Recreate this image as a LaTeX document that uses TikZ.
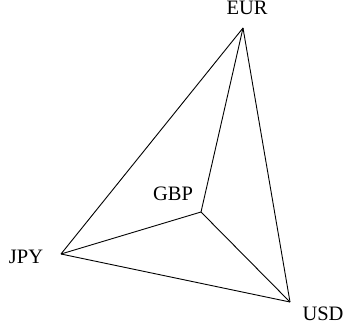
\documentclass[tikz,border=0pt]{standalone}
\usepackage{fontspec}
\setmainfont{Liberation Serif}
\begin{document}
\begin{tikzpicture}[x=1pt,y=-1pt,
  edge/.style={draw=black,line width=0.9pt},
  lbl/.style={font=\fontsize{20.5}{24}\selectfont,inner sep=0pt,anchor=base}]
\useasboundingbox (0,0) rectangle (344,331);
\coordinate (eur) at (243,28);
\coordinate (gbp) at (201,212);
\coordinate (jpy) at (61,254);
\coordinate (usd) at (290,302);
\node[lbl] (teur) at (247,15) {EUR};
\node[lbl] (tgbp) at (173,200) {GBP};
\node[lbl] (tjpy) at (26,263) {JPY};
\node[lbl] (tusd) at (323,320) {USD};
\draw[edge] (eur) -- (jpy);
\draw[edge] (eur) -- (gbp);
\draw[edge] (eur) -- (usd);
\draw[edge] (jpy) -- (gbp);
\draw[edge] (jpy) -- (usd);
\draw[edge] (gbp) -- (usd);
\end{tikzpicture}
\end{document}
